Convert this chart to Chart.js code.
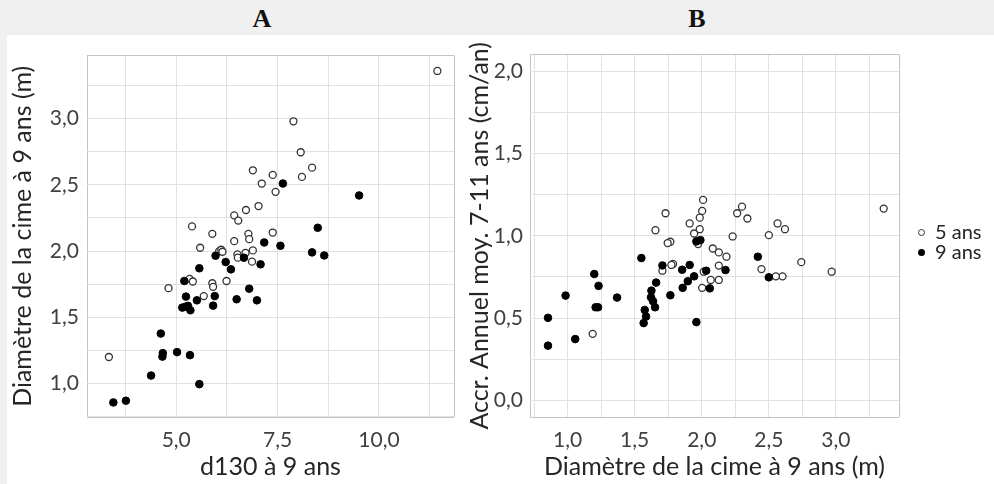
<!DOCTYPE html>
<html>
<head>
<meta charset="utf-8">
<script src="https://cdn.jsdelivr.net/npm/chart.js@4.4.1/dist/chart.umd.min.js"></script>
<style>
  body { margin: 0; width: 994px; height: 484px; background: #f0f0f0; position: relative; overflow: hidden; font-family: Lato, sans-serif; }
  .panel { position: absolute; left: 7px; top: 35px; width: 987px; height: 449px; background: #fff; }
  .letter { position: absolute; top: 4px; font-family: 'Liberation Serif', 'DejaVu Serif', serif; font-size: 26px; font-weight: bold; color: #111; transform: translateX(-50%); }
  #chartA { position: absolute; left: 7px; top: 35px; }
  #chartB { position: absolute; left: 465px; top: 35px; }
  .legend { position: absolute; left: 918px; top: 221px; font-size: 20px; color: #262626; line-height: 20px; }
  .legend div { white-space: nowrap; }
  .dot { display: inline-block; width: 7px; height: 7px; border-radius: 50%; box-sizing: border-box; margin-right: 10px; vertical-align: 3px; }
  .dot.open { background: #fff; border: 1.3px solid #333; }
  .dot.full { background: #000; }
</style>
</head>
<body>
<div class="panel"></div>
<div class="letter" style="left:262px">A</div>
<div class="letter" style="left:697px">B</div>
<canvas id="chartA" width="458" height="449"></canvas>
<canvas id="chartB" width="529" height="449"></canvas>
<div class="legend">
  <div><span class="dot open"></span>5 ans</div>
  <div><span class="dot full"></span>9 ans</div>
</div>
<script>
const seriesNames = ['5 ans', '9 ans'];

// A : d130 vs diamètre de la cime
const a5x = [11.44, 7.89, 8.07, 8.35, 8.10, 6.89, 7.38, 7.11, 7.45, 6.43, 6.72, 6.53, 7.03, 5.39, 5.89, 6.78, 7.38, 6.43,
  6.80, 5.59, 6.06, 6.11, 6.14, 6.51, 6.52, 6.71, 6.89, 6.87, 4.81, 5.33, 5.41, 5.89, 5.91, 6.24, 5.68, 3.34];
const a5y = [3.36, 2.98, 2.746, 2.63, 2.56, 2.61, 2.575, 2.51, 2.447, 2.27, 2.31, 2.23, 2.34, 2.186, 2.13, 2.13, 2.14, 2.075,
  2.09, 2.025, 2.0, 2.01, 1.995, 1.975, 1.95, 1.987, 2.005, 1.92, 1.72, 1.79, 1.77, 1.757, 1.73, 1.774, 1.66, 1.20];
const a9x = [9.51, 7.63, 8.49, 8.35, 8.65, 7.17, 7.57, 5.97, 6.22, 6.67, 7.08, 6.35, 5.57, 6.80, 5.20, 5.24, 5.51, 5.95,
  6.49, 6.99, 5.15, 5.29, 5.35, 5.23, 5.91, 4.62, 4.67, 4.66, 5.02, 5.34, 4.38, 5.57, 3.45, 3.76];
const a9y = [2.42, 2.51, 2.176, 1.99, 1.967, 2.065, 2.04, 1.965, 1.917, 1.95, 1.90, 1.862, 1.87, 1.716, 1.774, 1.656, 1.628, 1.66,
  1.636, 1.628, 1.573, 1.586, 1.553, 1.58, 1.588, 1.377, 1.229, 1.203, 1.237, 1.214, 1.06, 0.995, 0.857, 0.87];

// B : diamètre de la cime vs accroissement annuel
const b5x = [3.356, 2.968, 2.742, 2.62, 2.602, 2.565, 2.552, 2.50, 2.445, 2.34, 2.30, 2.264, 2.23, 2.184, 2.127, 2.127, 2.127, 2.082,
  2.067, 2.015, 2.01, 2.003, 2.003, 1.985, 1.985, 1.973, 1.943, 1.91, 1.786, 1.774, 1.766, 1.746, 1.73, 1.707, 1.655, 1.187];
const b5y = [1.165, 0.782, 0.84, 1.04, 0.754, 1.075, 0.754, 1.004, 0.798, 1.105, 1.177, 1.137, 0.996, 0.873, 0.899, 0.819, 0.732, 0.923,
  0.732, 0.782, 1.218, 1.151, 0.684, 1.11, 1.04, 0.95, 1.014, 1.075, 0.829, 0.823, 0.964, 0.956, 1.137, 0.788, 1.034, 0.405];
const b9x = [0.854, 0.854, 1.057, 0.985, 1.199, 1.231, 1.209, 1.227, 1.369, 1.55, 1.66, 1.625, 1.622, 1.637, 1.652, 1.575, 1.585,
  1.567, 1.707, 1.766, 1.854, 1.91, 1.858, 1.896, 1.943, 1.96, 1.99, 2.033, 2.177, 2.06, 1.96, 2.418, 2.50];
const b9y = [0.502, 0.333, 0.373, 0.637, 0.768, 0.696, 0.566, 0.566, 0.625, 0.865, 0.716, 0.667, 0.627, 0.603, 0.566, 0.55, 0.51,
  0.47, 0.82, 0.639, 0.794, 0.823, 0.684, 0.724, 0.754, 0.966, 0.974, 0.788, 0.792, 0.681, 0.476, 0.873, 0.748];

// tick labels shown
const aXLabels = [5.0, 7.5, 10.0];
const aYLabels = [1.0, 1.5, 2.0, 2.5, 3.0];
const bXLabels = [1.0, 1.5, 2.0, 2.5, 3.0];
const bYLabels = [0.0, 0.5, 1.0, 1.5, 2.0];

Chart.defaults.font.family = "Lato, sans-serif";

const fmt = v => v.toFixed(1).replace('.', ',');
const toPoints = (xs, ys) => xs.map((x, i) => ({ x, y: ys[i] }));

function gridValues(min, max, step) {
    const vals = [min];
    for (let v = Math.ceil(min / step + 1e-9) * step; v < max - 1e-9; v += step) vals.push(+v.toFixed(4));
    vals.push(max);
    return vals;
}

function axis(min, max, step, labels, title, size, tickPad, titlePad) {
    return {
        type: 'linear',
        min, max,
        afterBuildTicks: scale => { scale.ticks = gridValues(min, max, step).map(v => ({ value: v })); },
        afterFit: scale => { if (scale.isHorizontal()) scale.height = size; else scale.width = size; },
        grid: {
            drawTicks: false,
            color: ctx => (ctx.tick && (ctx.tick.value === min || ctx.tick.value === max)) ? '#c4c4c4' : '#e2e2e2'
        },
        border: { display: false },
        ticks: {
            autoSkip: false, maxRotation: 0, padding: tickPad, color: '#404040', font: { size: 21 },
            callback: v => labels.some(l => Math.abs(l - v) < 1e-6) ? fmt(v) : ''
        },
        title: { display: true, text: title, color: '#262626', font: { size: 25 }, padding: titlePad }
    };
}

function datasets(x5, y5, x9, y9) {
    return [
        { label: seriesNames[0], data: toPoints(x5, y5), order: 1, pointRadius: 3.5, pointBorderWidth: 1.3,
          backgroundColor: '#fff', borderColor: '#333' },
        { label: seriesNames[1], data: toPoints(x9, y9), order: 0, pointRadius: 3.8, pointBorderWidth: 1,
          backgroundColor: '#000', borderColor: '#000' }
    ];
}

function makeChart(id, data, scales, padding) {
    return new Chart(document.getElementById(id), {
        type: 'scatter',
        data: { datasets: data },
        options: {
            responsive: false,
            animation: false,
            layout: { padding },
            plugins: { legend: { display: false }, tooltip: { enabled: false } },
            scales
        }
    });
}

makeChart('chartA', datasets(a5x, a5y, a9x, a9y), {
    x: axis(2.8, 11.85, 1.25, aXLabels, 'd130 à 9 ans', 67, 11, { top: 0, bottom: 2 }),
    y: axis(0.747, 3.476, 0.25, aYLabels, 'Diamètre de la cime à 9 ans (m)', 80, 8, { top: 1, bottom: 0 })
}, { top: 18, right: 9, left: 0, bottom: 0 });

makeChart('chartB', datasets(b5x, b5y, b9x, b9y), {
    x: axis(0.72, 3.47, 0.25, bXLabels, 'Diamètre de la cime à 9 ans (m)', 67, 11, { top: 0, bottom: 2 }),
    y: axis(-0.1, 2.1, 0.25, bYLabels, 'Accr. Annuel moy. 7-11 ans (cm/an)', 65, 7, { top: 0, bottom: 0 })
}, { top: 18, right: 95, left: 0, bottom: 0 });
</script>
</body>
</html>
